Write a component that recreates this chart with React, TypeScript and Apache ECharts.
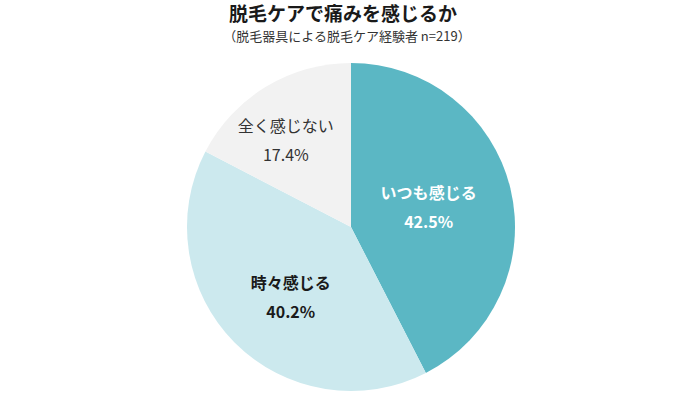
import React, { useEffect, useRef } from "react";
import * as echarts from "echarts";

const TITLE = "脱毛ケアで痛みを感じるか";
const SUBTITLE = "（脱毛器具による脱毛ケア経験者 n=219）";
const categories = ["いつも感じる", "時々感じる", "全く感じない"];
const values = [42.5, 40.2, 17.4];
const colors = ["#5bb7c4", "#cce9ee", "#f2f2f2"];
const labelColors = ["#ffffff", "#1a1a1a", "#333333"];
const labelWeights = ["bold", "bold", "normal"];

export default function App() {
  const ref = useRef<HTMLDivElement>(null);
  useEffect(() => {
    if (!ref.current) return;
    const chart = echarts.init(ref.current, undefined, { renderer: "svg" });
    const font = "'Noto Sans CJK JP', 'Noto Sans', sans-serif";
    chart.setOption({
      animation: false,
      backgroundColor: "#ffffff",
      title: [
        {
          text: TITLE,
          left: 338,
          textAlign: "center",
          top: 0,
          padding: [2, 5, 2, 5],
          textStyle: { fontFamily: font, fontSize: 19, lineHeight: 21, fontWeight: "bold", color: "#1a1a1a" },
        },
        {
          text: SUBTITLE,
          left: 342,
          textAlign: "center",
          top: 26,
          padding: [2, 5, 2, 5],
          textStyle: { fontFamily: font, fontSize: 13, lineHeight: 15, fontWeight: "normal", color: "#333333" },
        },
      ],
      series: [
        {
          type: "pie",
          center: [351, 227],
          radius: [0, 164],
          startAngle: 90,
          clockwise: true,
          silent: true,
          label: {
            show: true,
            position: "inside",
            fontFamily: font,
            fontSize: 16,
            lineHeight: 29,
            formatter: (p: any) => `${p.name}\n${p.value.toFixed(1)}%`,
          },
          labelLine: { show: false },
          labelLayout: (p: any) => {
            if (p.dataIndex === 0) return { dx: -5, dy: -1 };
            if (p.dataIndex === 1) return { dx: 0, dy: 10 };
            return { dx: -21, dy: -15 };
          },
          data: categories.map((name, i) => ({
            name,
            value: values[i],
            itemStyle: { color: colors[i], borderWidth: 0 },
            label: { color: labelColors[i], fontWeight: labelWeights[i] },
          })),
        },
      ],
    });
    return () => chart.dispose();
  }, []);
  return <div ref={ref} style={{ position: "absolute", left: 0, top: 0, width: 700, height: 393 }} />;
}
